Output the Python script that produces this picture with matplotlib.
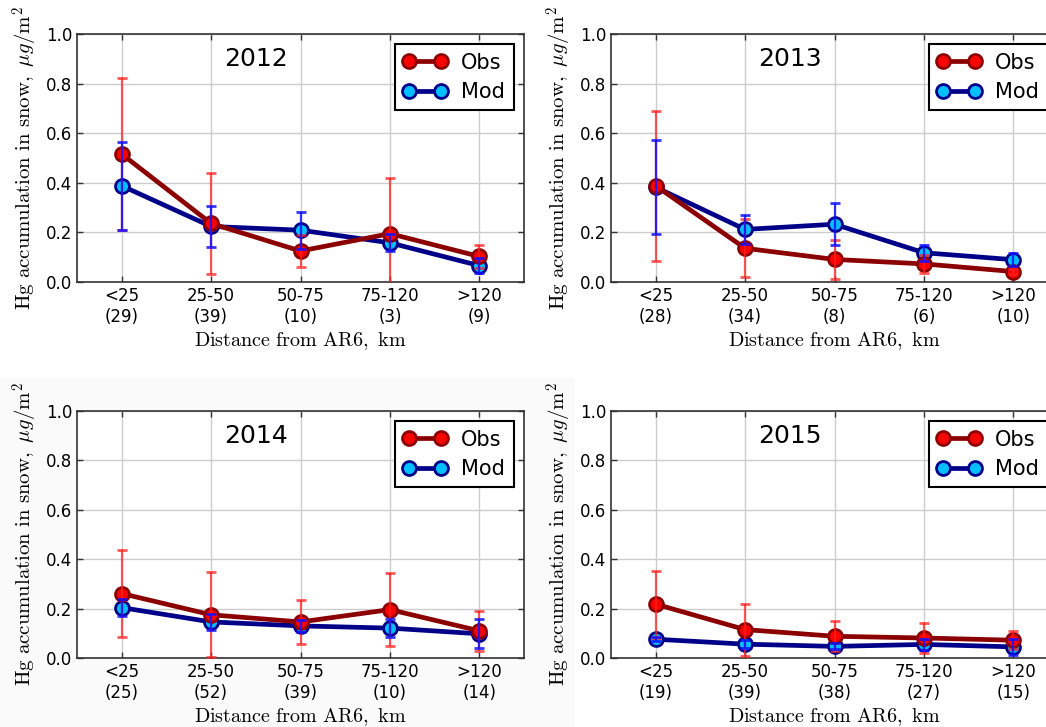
import numpy as np
import matplotlib
matplotlib.use('Agg')
import matplotlib.pyplot as plt
from matplotlib.patches import Rectangle

plt.rcParams['mathtext.fontset'] = 'cm'
plt.rcParams['font.family'] = 'DejaVu Sans'

categories = ['<25', '25-50', '50-75', '75-120', '>120']
years = ['2012', '2013', '2014', '2015']

# number of samples in each distance bin
counts = {
    '2012': [29, 39, 10, 3, 9],
    '2013': [28, 34, 8, 6, 10],
    '2014': [25, 52, 39, 10, 14],
    '2015': [19, 39, 38, 27, 15],
}

obs_mean = {
    '2012': [0.516, 0.236, 0.125, 0.195, 0.103],
    '2013': [0.388, 0.136, 0.091, 0.073, 0.042],
    '2014': [0.261, 0.175, 0.146, 0.196, 0.110],
    '2015': [0.218, 0.115, 0.088, 0.081, 0.072],
}
obs_err = {
    '2012': [0.308, 0.202, 0.063, 0.225, 0.045],
    '2013': [0.302, 0.117, 0.078, 0.036, 0.010],
    '2014': [0.178, 0.172, 0.088, 0.147, 0.080],
    '2015': [0.136, 0.105, 0.060, 0.059, 0.036],
}
mod_mean = {
    '2012': [0.388, 0.224, 0.209, 0.158, 0.066],
    '2013': [0.382, 0.212, 0.233, 0.118, 0.090],
    '2014': [0.204, 0.146, 0.130, 0.121, 0.098],
    '2015': [0.076, 0.056, 0.047, 0.055, 0.045],
}
mod_err = {
    '2012': [0.178, 0.083, 0.075, 0.035, 0.030],
    '2013': [0.190, 0.060, 0.085, 0.032, 0.025],
    '2014': [0.035, 0.034, 0.023, 0.035, 0.058],
    '2015': [0.008, 0.015, 0.012, 0.022, 0.032],
}

W, H = 1046, 727
fig = plt.figure(figsize=(W / 100, H / 100), dpi=100)

# faint grey backdrop behind the lower left panel
fig.patches.append(Rectangle((0, 0), 575 / W, 1 - 378 / H, transform=fig.transFigure,
                             facecolor='#fafafa', edgecolor='none', zorder=-10))

# axes boxes in pixels: left, top, right, bottom
boxes = {
    '2012': (77, 34, 524, 282),
    '2013': (611, 34, 1058, 282),
    '2014': (77, 411, 524, 658),
    '2015': (611, 411, 1058, 658),
}

x = np.arange(len(categories))

for yr in years:
    l, t, r, b = boxes[yr]
    ax = fig.add_axes([l / W, 1 - b / H, (r - l) / W, (b - t) / H])

    ax.plot(x, mod_mean[yr], '-o', color='#000088', lw=3.4, ms=10,
            mfc='#00bfff', mec='#000088', mew=2, label='Mod', zorder=3)
    ax.plot(x, obs_mean[yr], '-o', color='#8b0000', lw=3.4, ms=10,
            mfc='#ff0000', mec='#8b0000', mew=2, label='Obs', zorder=4)
    ax.errorbar(x, obs_mean[yr], yerr=obs_err[yr], fmt='none', ecolor='#ff2020',
                elinewidth=1.6, capsize=3.5, capthick=2, alpha=0.75, zorder=5)
    ax.errorbar(x, mod_mean[yr], yerr=mod_err[yr], fmt='none', ecolor='#1010ff',
                elinewidth=1.6, capsize=3.5, capthick=2, alpha=0.85, zorder=5)

    ax.set_xlim(-0.5, 4.5)
    ax.set_ylim(0, 1)
    ax.set_yticks([0, 0.2, 0.4, 0.6, 0.8, 1.0])
    ax.set_xticks(x)
    ax.set_xticklabels(['%s\n(%d)' % (c, n) for c, n in zip(categories, counts[yr])],
                       fontsize=12)
    ax.tick_params(axis='y', labelsize=12)
    ax.tick_params(direction='in', top=True, right=True, length=4, width=1, color='#333333')
    ax.grid(True, color='#cccccc', lw=1)
    ax.set_axisbelow(True)
    for s in ax.spines.values():
        s.set_color('#333333')
        s.set_linewidth(1.2)

    ax.text(1.5, 0.9, yr, ha='center', va='center', fontsize=18)

    h, lab = ax.get_legend_handles_labels()
    leg = ax.legend(h[::-1], lab[::-1], loc='upper right', numpoints=2, fontsize=15,
                    fancybox=False, framealpha=1, edgecolor='black', handlelength=2.1,
                    borderaxespad=0.5, labelspacing=0.45, handletextpad=0.7)
    leg.get_frame().set_linewidth(1.5)

    ax.set_ylabel(r'$\mathrm{Hg\ accumulation\ in\ snow,}\ \mu g/\mathrm{m}^2$', fontsize=15,
                  labelpad=4)
    ax.set_xlabel(r'$\mathrm{Distance\ from\ AR6,\ km}$', fontsize=14.5, labelpad=3)

fig.savefig('out.png', dpi=100)
